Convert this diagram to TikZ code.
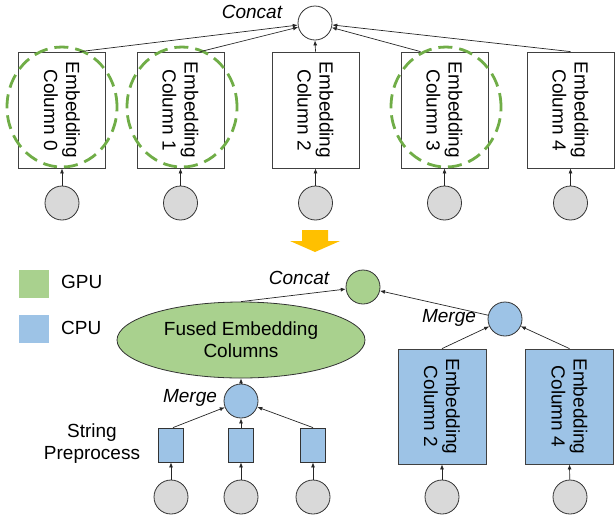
\documentclass[tikz,border=0pt]{standalone}
\usepackage{fontspec}
\setmainfont{Liberation Sans}
\usetikzlibrary{arrows.meta,shapes.geometric}
\definecolor{gpugreen}{HTML}{A9D18E}
\definecolor{cpublue}{HTML}{9DC3E6}
\definecolor{inputgray}{HTML}{D9D9D9}
\definecolor{dashgreen}{HTML}{70AD47}
\definecolor{stepyellow}{HTML}{FFC000}
\begin{document}
\begin{tikzpicture}[x=1pt,y=-1pt,
  font=\fontsize{19}{22}\selectfont,
  colbox/.style={draw=black!75, line width=0.8pt, minimum width=87pt, minimum height=116pt, inner sep=0pt},
  coltext/.style={rotate=-90, align=center, inner sep=0pt},
  inp/.style={circle, draw=black!80, line width=0.8pt, fill=inputgray, minimum size=34pt, inner sep=0pt},
  opnode/.style={circle, draw=black!80, line width=0.8pt, minimum size=34pt, inner sep=0pt},
  prep/.style={draw=black!80, line width=0.8pt, fill=cpublue, minimum width=25pt, minimum height=34pt, inner sep=0pt},
  oplabel/.style={font=\fontsize{19}{22}\selectfont\itshape, inner sep=0pt},
  arr/.style={-{Latex[length=5pt,width=4pt]}, line width=0.7pt, draw=black!85},
  gpufocus/.style={ellipse, draw=dashgreen, line width=2.8pt, dash pattern=on 14pt off 7pt, minimum width=110pt, minimum height=120pt, inner sep=0pt},
  legendsq/.style={minimum width=30pt, minimum height=28pt, inner sep=0pt}
]
\useasboundingbox (0,0) rectangle (615,520);

% ---------- original graph: one embedding column per feature ----------
\node[opnode, fill=white] (cat) at (315,23) {};
\node[oplabel] (catlbl) at (252,12) {Concat};

\foreach \i/\x in {0/62,1/180.5,2/315.5,3/444.5,4/570.5}{
  \node[colbox] (b\i) at (\x,110) {};
  \node[coltext] (t\i) at (b\i.center) {Embedding\\Column \i};
  \node[inp] (in\i) at (\x,203) {};
  \draw[arr] (in\i) -- (b\i.south);
}

% columns placed on the GPU
\node[gpufocus] (g0) at (62,107) {};
\node[gpufocus] (g1) at (182,107) {};
\node[gpufocus] (g3) at (446,107) {};

\draw[arr] ([xshift=18pt]b0.north) -- (cat);
\draw[arr] ([xshift=20pt]b1.north) -- (cat);
\draw[arr] (b2.north) -- (cat.south);
\draw[arr] ([xshift=-24pt]b3.north) -- (cat);
\draw[arr] (b4.north) -- (cat);

% transformation arrow
\fill[stepyellow] (302,230) -- (328,230) -- (328,241) -- (340,241) -- (315,252)
  -- (290,241) -- (302,241) -- cycle;

% ---------- legend ----------
\node[legendsq, fill=gpugreen] (lg) at (34,284) {};
\node[anchor=west, inner sep=0pt] (lgt) at (61,282) {GPU};
\node[legendsq, fill=cpublue] (lc) at (34,329) {};
\node[anchor=west, inner sep=0pt] (lct) at (61,328) {CPU};

% ---------- optimised graph ----------
\node[opnode, fill=gpugreen] (cat2) at (363,287) {};
\node[oplabel] (cat2lbl) at (299,278) {Concat};

\node[ellipse, draw=black!80, line width=0.8pt, fill=gpugreen, minimum width=248pt,
      minimum height=76pt, inner sep=0pt, align=center] (fused) at (241,340)
      {Fused Embedding\\Columns};

\node[opnode, fill=cpublue] (m1) at (241,401) {};
\node[oplabel] (m1lbl) at (190,398) {Merge};

\node[align=center, inner sep=0pt] (sp) at (92,444) {String\\Preprocess};

\foreach \k/\x in {1/171,2/241,3/313}{
  \node[prep] (p\k) at (\x,445) {};
  \node[inp] (pi\k) at (\x,497) {};
  \draw[arr] (pi\k) -- (p\k.south);
}
\draw[arr] ([xshift=2pt]p1.north) -- (m1);
\draw[arr] (p2.north) -- (m1.south);
\draw[arr] (p3.north) -- (m1);
\draw[arr] (m1.north) -- (fused.south);
\draw[arr] (fused.north) -- (cat2);

\node[opnode, fill=cpublue] (m2) at (505,319) {};
\node[oplabel] (m2lbl) at (449,318) {Merge};

\node[colbox, fill=cpublue, minimum width=88pt, minimum height=115pt] (c2) at (442,406.5) {};
\node[coltext] (ct2) at (c2.center) {Embedding\\Column 2};
\node[colbox, fill=cpublue, minimum width=88pt, minimum height=115pt] (c4) at (569.5,406.5) {};
\node[coltext] (ct4) at (c4.center) {Embedding\\Column 4};

\node[inp] (ci2) at (442,497) {};
\node[inp] (ci4) at (570,497) {};
\draw[arr] (ci2) -- (c2.south);
\draw[arr] (ci4) -- (c4.south);
\draw[arr] (c2.north) -- (m2);
\draw[arr] (c4.north) -- (m2);
\draw[arr] (m2) -- (cat2);
\end{tikzpicture}
\end{document}
